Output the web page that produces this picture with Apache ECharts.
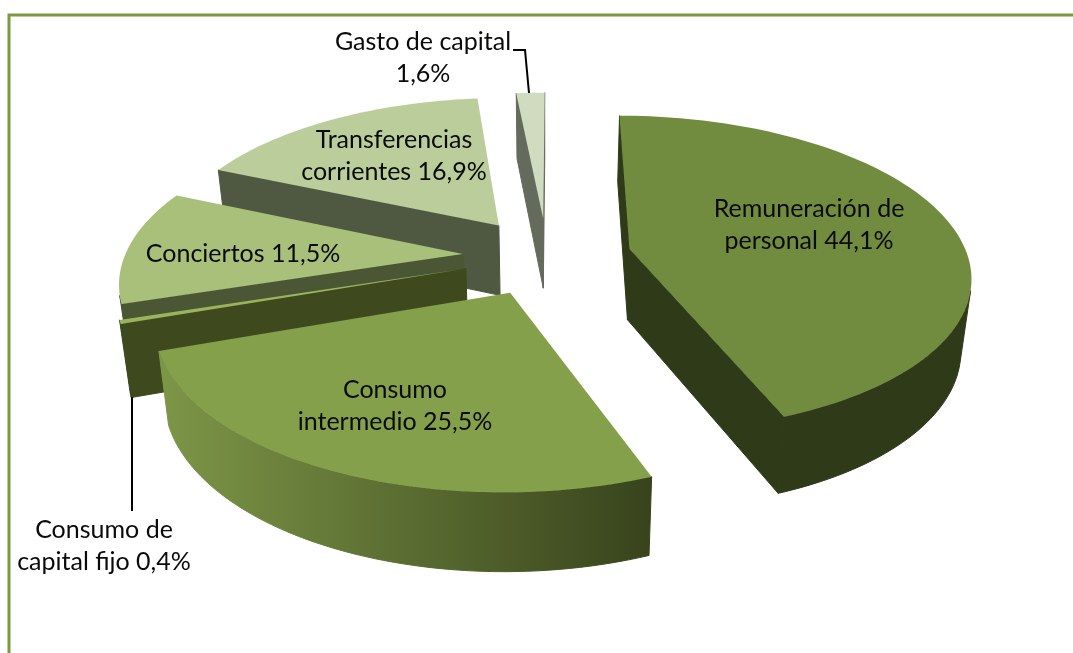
<!DOCTYPE html>
<html>
<head>
<meta charset="utf-8">
<style>
html,body{margin:0;padding:0;background:#fff}
#pie3d{width:1073px;height:653px}
</style>
</head>
<body>
<div id="pie3d"></div>
<script src="https://cdn.jsdelivr.net/npm/echarts@6/dist/echarts.min.js"></script>
<script>
// order is the order of the slices clockwise from 12 o'clock
const categories = ['Remuneración de\npersonal', 'Consumo\nintermedio', 'Consumo de\ncapital fijo', 'Conciertos', 'Transferencias\ncorrientes', 'Gasto de capital\n'];
const values = [44.1, 25.5, 0.4, 11.5, 16.9, 1.6];

const topColors = ['#718b3f', '#84a04a', '#9ab45c', '#a9c07a', '#bccd9c', '#cfdcbf'];
const faceColors = ['#2f3a18', '#38431c', '#3e4a1e', '#4a5634', '#4f5840', '#646b5c'];
const wallStops = [
    ['#2f3a18', '#2f3a18'],
    ['#7d9647', '#38431c'],
    ['#3e4a1e', '#3e4a1e'],
    ['#4a5634', '#4a5634'],
    ['#4f5840', '#4f5840'],
    ['#646b5c', '#646b5c']
];
const labelPos = [[809, 225], [395, 406], [104, 546], [243, 254], [394, 156], [423, 58]];
const drawOrder = [5, 4, 3, 2, 1, 0]; // back to front

// fake 3D camera
const cx = 547, cy = 256, R = 338, Ry = 156, persp = 0.155;
const depth = 71, shrink = 0.975, explode = 0.25, firstAngle = 0.2;

function project(u, v, bottom) {
    const p = 1 / (1 + persp * v);
    let x = cx + u * R * p;
    let y = cy - v * Ry * p;
    if (bottom) {
        x = cx + (x - cx) * shrink;
        y += depth * (1 + (p - 1) * 0.5);
    }
    return [x, y];
}
function area(q) {
    let s = 0;
    q.forEach((a, i) => {
        const b = q[(i + 1) % q.length];
        s += a[0] * b[1] - b[0] * a[1];
    });
    return s;
}

const total = values.reduce((a, b) => a + b, 0);
const angles = [];
let acc = firstAngle;
values.forEach(v => {
    angles.push([acc, acc + v / total * 360]);
    acc += v / total * 360;
});

function slicePaths(i) {
    const start = angles[i][0], end = angles[i][1];
    const mid = (start + end) / 2 * Math.PI / 180;
    const ou = Math.sin(mid) * explode, ov = Math.cos(mid) * explode;
    const rim = [];
    const n = Math.max(2, Math.ceil((end - start) / 1.5));
    for (let k = 0; k <= n; k++) {
        const a = (start + (end - start) * k / n) * Math.PI / 180;
        rim.push([ou + Math.sin(a), ov + Math.cos(a)]);
    }
    return { apex: [ou, ov], rim };
}

function renderSlice(params) {
    const i = drawOrder[params.dataIndex];
    const { apex, rim } = slicePaths(i);
    const children = [];
    const z = params.dataIndex * 10;
    const face = (a, b) => {
        const q = [project(a[0], a[1]), project(b[0], b[1]), project(b[0], b[1], true), project(a[0], a[1], true)];
        if (area(q) < 0) {
            children.push({ type: 'polygon', z2: z, shape: { points: q }, style: { fill: faceColors[i], stroke: faceColors[i], lineWidth: 1 } });
        }
    };
    face(apex, rim[0]);
    face(rim[rim.length - 1], apex);

    // outer wall: only the segments turned to the viewer
    const up = [], down = [];
    for (let k = 0; k < rim.length - 1; k++) {
        const a = rim[k], b = rim[k + 1];
        const q = [project(a[0], a[1]), project(b[0], b[1]), project(b[0], b[1], true), project(a[0], a[1], true)];
        if (area(q) < 0) {
            if (!up.length) { up.push(q[0]); down.push(q[3]); }
            up.push(q[1]);
            down.push(q[2]);
        }
    }
    if (up.length) {
        const xs = up.concat(down).map(p => p[0]);
        const wallFill = {
            type: 'linear', global: true,
            x: Math.min(...xs), y: 0, x2: Math.max(...xs), y2: 0,
            colorStops: [{ offset: 0, color: wallStops[i][0] }, { offset: 1, color: wallStops[i][1] }]
        };
        children.push({
            type: 'polygon', z2: z + 1,
            shape: { points: up.concat(down.reverse()) },
            style: { fill: wallFill, stroke: wallFill, lineWidth: 1 }
        });
    }

    const topPts = [apex].concat(rim).map(p => project(p[0], p[1]));
    children.push({ type: 'polygon', z2: z + 2, shape: { points: topPts }, style: { fill: topColors[i] } });

    const name = categories[i];
    children.push({
        type: 'text', z2: 200,
        x: labelPos[i][0], y: labelPos[i][1],
        style: {
            text: name + (name.endsWith('\n') ? '' : ' ') + values[i].toFixed(1).replace('.', ',') + '%',
            font: '25px Lato',
            lineHeight: 32,
            fill: '#0a0a0a',
            align: 'center',
            verticalAlign: 'middle'
        }
    });
    return { type: 'group', children };
}

const myChart = echarts.init(document.querySelector('#pie3d'));
const option = {
    animation: false,
    backgroundColor: '#fff',
    graphic: [
        { type: 'polyline', shape: { points: [[9, 653], [9, 15], [1073, 15]] }, style: { stroke: '#7d9a3f', lineWidth: 3, fill: null } },
        { type: 'polyline', z: 5, shape: { points: [[513, 50], [525, 50], [529, 93]] }, style: { stroke: '#000', lineWidth: 2, fill: null } },
        { type: 'polyline', z: 5, shape: { points: [[132, 397], [132, 511]] }, style: { stroke: '#000', lineWidth: 2, fill: null } }
    ],
    series: [{
        type: 'custom',
        coordinateSystem: 'none',
        silent: true,
        data: drawOrder.map(i => values[i]),
        renderItem: renderSlice
    }]
};
myChart.setOption(option);
</script>
</body>
</html>
